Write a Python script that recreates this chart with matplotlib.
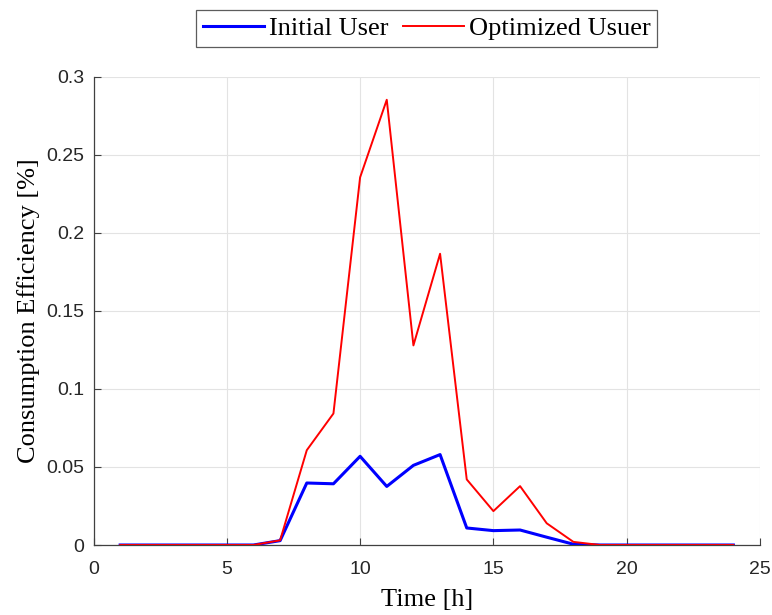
import matplotlib
matplotlib.use("Agg")
import matplotlib.pyplot as plt

hours = list(range(1, 25))
initial_user = [0, 0, 0, 0, 0, 0, 0.0028, 0.0397, 0.0392, 0.0568, 0.0375, 0.0510,
                0.0579, 0.0109, 0.0092, 0.0096, 0.0050, 0.0005, 0, 0, 0, 0, 0, 0]
optimized_user = [0, 0, 0, 0, 0, 0, 0.0030, 0.0607, 0.0842, 0.2354, 0.2851, 0.1278,
                  0.1865, 0.0420, 0.0217, 0.0377, 0.0139, 0.0020, 0, 0, 0, 0, 0, 0]
xticks = [0, 5, 10, 15, 20, 25]
yticks = [0, 0.05, 0.1, 0.15, 0.2, 0.25, 0.3]
ytick_labels = ["0", "0.05", "0.1", "0.15", "0.2", "0.25", "0.3"]

fig = plt.figure(figsize=(7.72, 6.15), dpi=100)
W, H = 772, 615
left, right, top, bottom = 93.5, 760, 76.5, 545
ax = fig.add_axes([left / W, 1 - bottom / H, (right - left) / W, (bottom - top) / H])

ax.plot(hours, initial_user, color="#0000ff", lw=2.2, label="Initial User", zorder=3)
ax.plot(hours, optimized_user, color="#ff0000", lw=1.4, label="Optimized Usuer", zorder=4)

ax.set_xlim(0, 25)
ax.set_ylim(0, 0.3)
ax.set_xticks(xticks)
ax.set_yticks(yticks)
ax.set_yticklabels(ytick_labels)
ax.grid(True, color="#e3e3e3", lw=0.8)
ax.set_axisbelow(True)
for s in ["top", "right"]:
    ax.spines[s].set_visible(False)
for s in ["left", "bottom"]:
    ax.spines[s].set_color("#404040")
    ax.spines[s].set_linewidth(0.9)
ax.tick_params(direction="in", length=5, width=0.8, color="#404040",
               labelsize=14, labelcolor="#262626")
ax.tick_params(axis="x", pad=11.5)
ax.tick_params(axis="y", pad=6.5)
for lbl in ax.get_xticklabels() + ax.get_yticklabels():
    lbl.set_fontfamily("Liberation Sans")

ax.set_xlabel("Time [h]", fontsize=19, fontfamily="Liberation Serif", labelpad=8)
ax.set_ylabel("Consumption Efficiency [%]", fontsize=19, fontfamily="Liberation Serif", labelpad=5)

leg = ax.legend(loc="center", bbox_to_anchor=(0.5 * (left + right) / W, 1 - 28.5 / H),
                bbox_transform=fig.transFigure, ncol=2, frameon=True, fancybox=False,
                prop={"family": "Liberation Serif", "size": 19}, handlelength=2.3,
                handletextpad=0.2, columnspacing=0.55, borderpad=0.25, borderaxespad=0)
leg.get_frame().set_edgecolor("#333333")
leg.get_frame().set_linewidth(0.9)

fig.savefig("out.png", dpi=100)
